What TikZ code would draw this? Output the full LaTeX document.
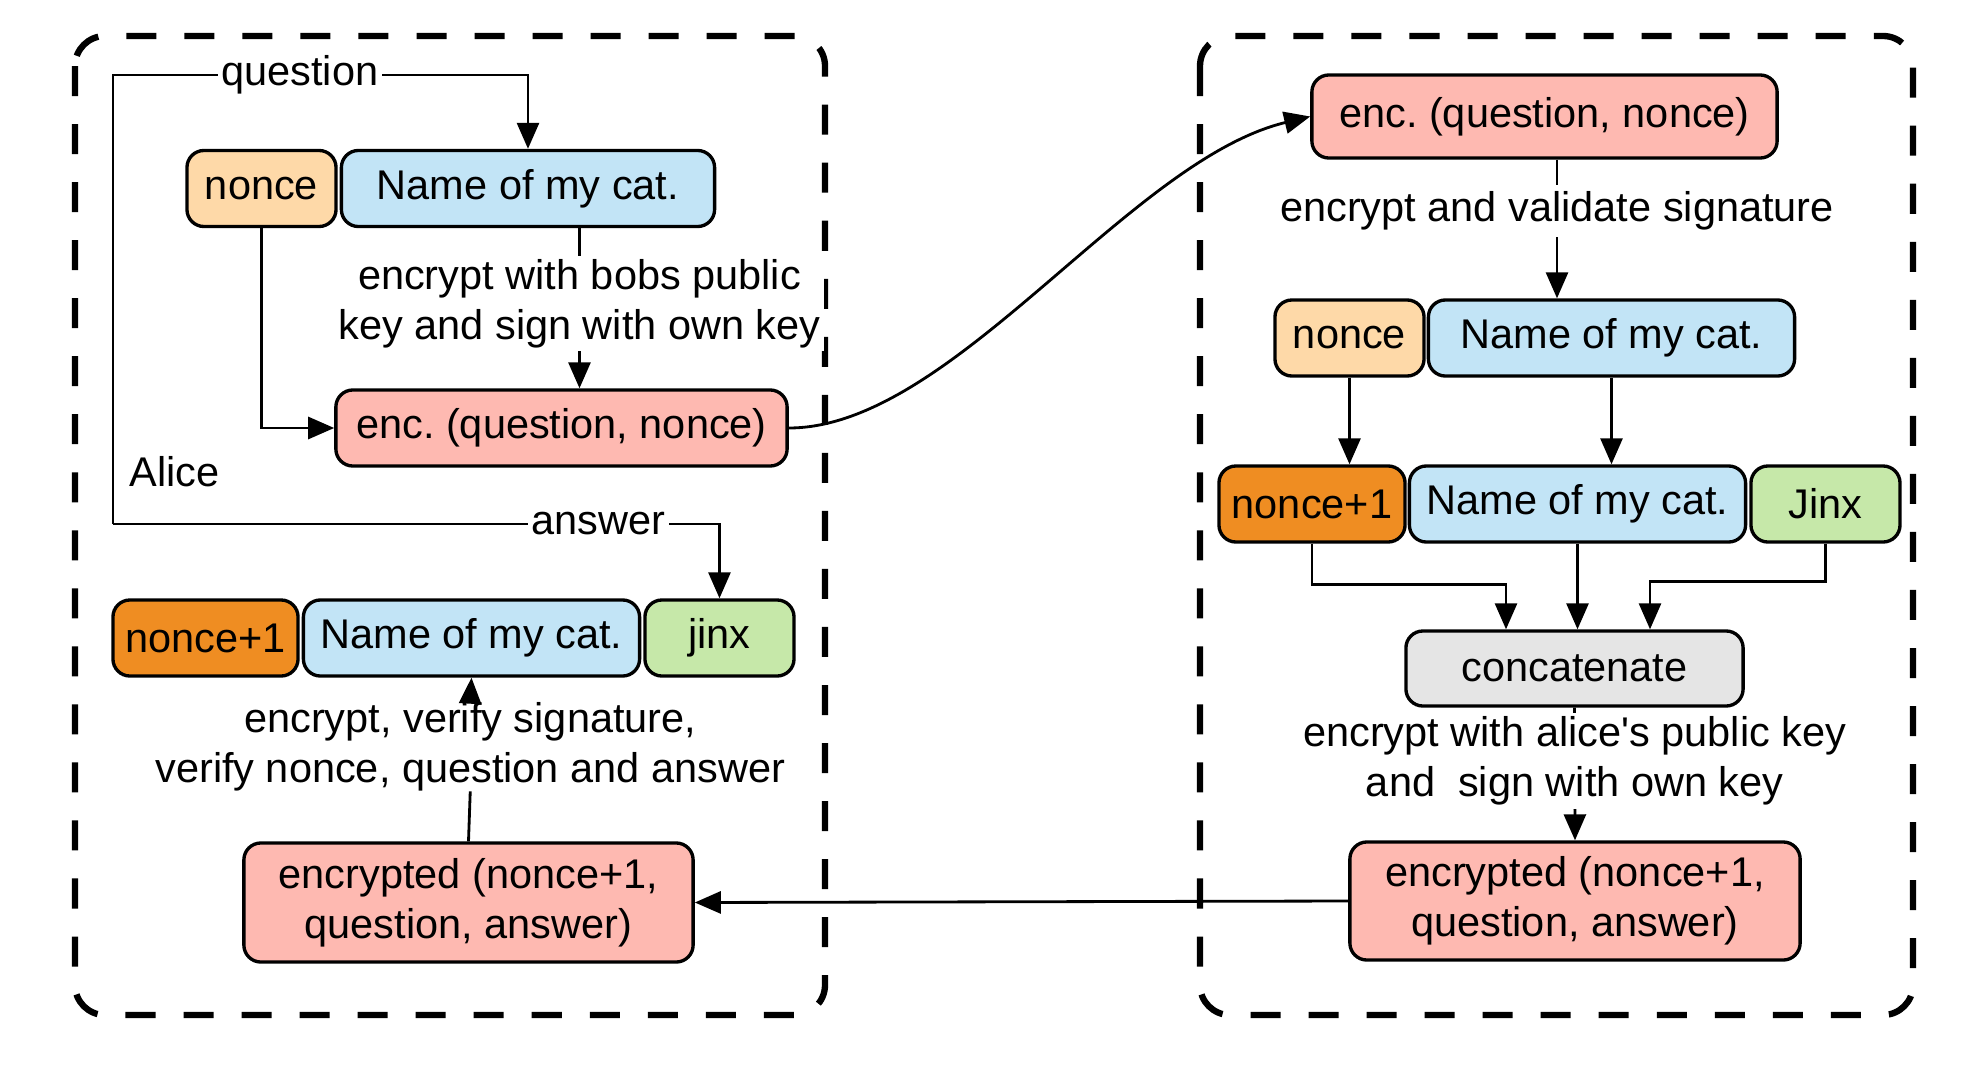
\documentclass[tikz,border=0pt]{standalone}
\usepackage{fontspec}
\setmainfont{Liberation Sans}
\usetikzlibrary{arrows.meta,positioning,calc}
\definecolor{noncefill}{HTML}{FED9A8}
\definecolor{catfill}{HTML}{C2E4F6}
\definecolor{encfill}{HTML}{FEB9B1}
\definecolor{plusfill}{HTML}{EF8D22}
\definecolor{jinxfill}{HTML}{C6E8A9}
\definecolor{concatfill}{HTML}{E5E5E5}
\tikzset{%
        >={Triangle[length=2.6mm,width=2.2mm]},
        link/.style={->, line width=0.8pt},
        line/.style={line width=0.8pt}
}
\tikzstyle{field}=[
    draw = black,
    line width = 0.95pt,
    rounded corners = 1.7mm,
    minimum height = 7.6mm,
    inner sep = 0pt
]
\tikzstyle{note}=[
    fill = white,
    align = center,
    inner sep = 2pt
]
\tikzstyle{group}=[
    draw = black,
    line width = 1.8pt,
    dash pattern = on 3mm off 2.8mm,
    rounded corners = 3mm
]

\begin{document}
\frenchspacing
\begin{tikzpicture}[x=0.01cm, y=-0.01cm, font=\fontsize{11.8}{14.2}\selectfont]
    \useasboundingbox (0,0) rectangle (1988,1088);
    % Alice
    \draw[group] (75,36) rectangle (825,1015);
    \node[anchor=west, inner sep=0pt] (alice) at (129,472) {Alice};
    \node[field, fill=noncefill, minimum width=1.49cm] (nonceA) at (261.5,188.5) {nonce};
    \node[field, fill=catfill, minimum width=3.73cm, right=0.02cm of nonceA] (catA) {Name of my cat.};
    \node[field, fill=encfill, minimum width=4.51cm] (encA) at (561.5,428) {enc. (question, nonce)};
    \node[field, fill=plusfill, minimum width=1.85cm] (plusA) at (205.5,638) {nonce+1};
    \node[field, fill=catfill, minimum width=3.36cm, right=0.02cm of plusA] (cattA) {Name of my cat.};
    \node[field, fill=jinxfill, minimum width=1.49cm, right=0.02cm of cattA] (jinxA) {jinx};
    \node[field, fill=encfill, minimum width=4.49cm, minimum height=1.19cm, align=center] (encdA) at (468.5,902.5) {encrypted (nonce+1,\\question, answer)};
    \node[note, inner sep=0pt] (verA) at ($(encdA.north)!0.58!(cattA.south)$) {encrypt, verify signature,\\verify nonce, question and answer};
    % Bob
    \draw[group] (1200,36) rectangle (1913,1015);
    \node[field, fill=encfill, minimum width=4.65cm, minimum height=8.3mm] (encB) at (1544.5,116.5) {enc. (question, nonce)};
    \node[field, fill=noncefill, minimum width=1.49cm] (nonceB) at (1349.5,338) {nonce};
    \node[field, fill=catfill, minimum width=3.66cm, right=0.01cm of nonceB] (catB) {Name of my cat.};
    \node[field, fill=plusfill, minimum width=1.86cm] (plusB) at (1312,504) {nonce+1};
    \node[field, fill=catfill, minimum width=3.36cm, right=0.01cm of plusB] (cattB) {Name of my cat.};
    \node[field, fill=jinxfill, minimum width=1.49cm, right=0.02cm of cattB] (jinxB) {Jinx};
    \node[field, fill=concatfill, minimum width=3.37cm, minimum height=7.5mm] (concat) at (1574.5,668.5) {concatenate};
    \node[field, fill=encfill, minimum width=4.5cm, minimum height=1.18cm, align=center] (encdB) at (1575,901) {encrypted (nonce+1,\\question, answer)};

    \coordinate (askA) at (113,75);
    \coordinate (hearA) at (113,524);
    \coordinate (bobsA) at ($(catA.south)+(51.5,0)$);
    \coordinate (sigB) at ($(encB.south)+(12.5,0)$);

    \draw[link] (hearA) -- (askA) -- node[note, inner sep=1pt, pos=0.45] {question} (askA -| catA.north) -- (catA.north);
    \draw[link] (hearA) -- node[note, inner sep=1pt, pos=0.8] {answer} (hearA -| jinxA.north) -- (jinxA.north);
    \draw[link] (nonceA.south) |- (encA.west);
    \draw[link] (bobsA) -- node[note, inner sep=1pt, pos=0.47] {encrypt with bobs public\\key and sign with own key} (bobsA |- encA.north);
    \draw[line] (encdA.north) -- (verA.south);
    \draw[link] (verA.north) -- (cattA.south);

    \draw[link] (encA.east) .. controls +(163,0) and +(-182,44) .. (encB.west);
    \draw[link] (sigB) -- node[note, pos=0.37] {encrypt and validate signature} (sigB |- catB.north);
    \draw[link] (nonceB.south) -- (nonceB.south |- plusB.north);
    \draw[link] (catB.south) -- (catB.south |- cattB.north);
    \draw[link] (plusB.south) -- ++(0,41) -| ($(concat.north)+(-68.5,0)$);
    \draw[link] (cattB.south) -- (cattB.south |- concat.north);
    \draw[link] (jinxB.south) -- ++(0,38) -| ($(concat.north)+(75.5,0)$);
    \draw[link] (concat.south) -- node[note, inner sep=1pt, pos=0.4] {encrypt with alice\textquotesingle s public key\\and\ \ sign with own key} (encdB.north);
    \draw[link] (encdB.west) -- (encdA.east);
\end{tikzpicture}
\end{document}
